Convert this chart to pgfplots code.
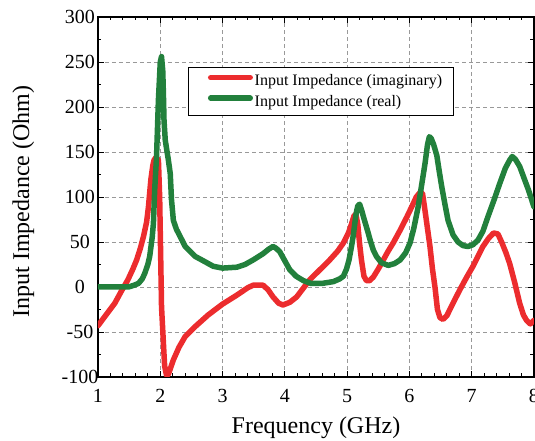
\documentclass[border=0pt]{standalone}
\usepackage{pgfplots}
\pgfplotsset{compat=1.18}
\usepackage{fontspec}
\setmainfont{Liberation Serif}
\definecolor{cred}{RGB}{236,44,46}
\definecolor{cgreen}{RGB}{34,128,60}
\begin{document}
\begin{tikzpicture}
\begin{axis}[
  scale only axis, width=436pt, height=360pt,
  xmin=1, xmax=8, ymin=-100, ymax=300,
  xtick={1,2,3,4,5,6,7,8}, ytick={-100,-50,0,50,100,150,200,250,300},
  minor x tick num=4, minor y tick num=1,
  tick align=inside, tickpos=both,
  major tick length=6pt, minor tick length=3.5pt,
  every tick/.style={black, line width=0.9pt},
  axis line style={black, line width=1.2pt},
  grid=major,
  major grid style={gray!80, dash pattern=on 4pt off 3pt, line width=0.8pt},
  /pgf/number format/assume math mode=true,
  xticklabel={\pgfmathprintnumber{\tick}},
  yticklabel={\pgfmathprintnumber{\tick}},
  ticklabel style={font=\fontsize{20}{22}\selectfont},
  yticklabel style={anchor=center, xshift=-18pt},
  xticklabel style={anchor=center, yshift=-19pt},
  xlabel={Frequency (GHz)}, ylabel={Input Impedance (Ohm)},
  label style={font=\fontsize{24}{26}\selectfont},
  xlabel style={at={(axis description cs:0.5,-0.158)}, anchor=base},
  ylabel style={at={(axis description cs:-0.158,0.4875)}, anchor=base, rotate=0},
  legend cell align=left,
  legend image code/.code={\path (0pt,0pt) (50pt,0pt); \draw[#1] (8.75pt,0.35em) -- (48.25pt,0.35em);},
  legend style={at={(rel axis cs:0.206,0.860)}, anchor=north west,
    draw=black, line width=0.8pt, fill=white,
    font=\fontsize{16}{17}\selectfont,
    inner xsep=11pt, inner ysep=7pt, row sep=8pt,
    nodes={inner sep=0pt},
    /tikz/every even column/.append style={column sep=0pt}},
  every axis plot/.append style={line width=5.5pt, line join=round, line cap=round},
  clip=true,
]
\addplot[cred] coordinates {
(1.00,-43) (1.14,-30) (1.27,-18) (1.38,-4) (1.48,8) (1.56,20) (1.62,30) (1.68,43) (1.73,56) (1.78,72) (1.81,89) (1.83,105) (1.85,120) (1.88,135) (1.90,141) (1.93,144) (1.97,141)
(1.99,100) (2.00,60) (2.02,-22) (2.05,-62) (2.07,-88) (2.10,-98) (2.13,-97) (2.17,-89) (2.21,-81) (2.30,-67) (2.40,-55) (2.56,-44) (2.77,-31)
(3.00,-19) (3.23,-9) (3.40,-1) (3.49,2) (3.65,2) (3.73,-3) (3.81,-11) (3.90,-18) (3.97,-20) (4.08,-17) (4.19,-11) (4.30,-1) (4.40,8) (4.56,19) (4.72,30) (4.85,40) (4.94,49)
(5.02,60) (5.07,70) (5.11,79) (5.14,81) (5.17,70) (5.20,48) (5.23,30) (5.27,12) (5.31,7) (5.36,7) (5.42,11) (5.50,20) (5.58,30) (5.66,40) (5.74,49) (5.85,63) (5.96,78) (6.05,91)
(6.11,100) (6.17,105) (6.21,104) (6.24,90) (6.28,70) (6.33,45) (6.37,20) (6.41,0) (6.45,-25) (6.49,-34) (6.54,-36) (6.60,-32) (6.70,-18) (6.81,-3) (6.92,11) (7.02,23)
(7.10,34) (7.18,45) (7.27,54) (7.35,60) (7.42,59) (7.48,50) (7.55,38) (7.61,26) (7.69,5) (7.77,-18) (7.83,-31) (7.88,-37) (7.94,-41) (8.00,-37)
};
\addlegendentry{Input Impedance (imaginary)}
\addplot[cgreen] coordinates {
(1.00,0) (1.30,0) (1.49,0) (1.58,2) (1.65,4) (1.71,9) (1.75,15) (1.80,25) (1.83,34) (1.87,55) (1.89,71) (1.91,108) (1.94,145) (1.97,208) (2.00,250)
(2.02,256) (2.04,240) (2.05,215) (2.06,185) (2.08,163) (2.13,141) (2.16,126) (2.18,97) (2.21,74) (2.26,64) (2.32,56) (2.40,45) (2.56,34) (2.72,28)
(2.85,23) (3.00,21) (3.23,22) (3.36,25) (3.49,30) (3.65,37) (3.74,42) (3.81,45) (3.86,43) (3.92,39) (4.00,29) (4.08,19) (4.18,12) (4.30,7) (4.42,4) (4.60,4)
(4.78,6) (4.88,9) (4.94,12) (4.99,20) (5.03,30) (5.07,45) (5.10,58) (5.14,80) (5.17,90) (5.20,92) (5.23,86) (5.27,76) (5.33,62) (5.37,52) (5.42,41) (5.47,34) (5.55,27)
(5.66,24) (5.76,26) (5.85,30) (5.94,38) (6.01,49) (6.07,65) (6.14,89) (6.20,115) (6.25,137) (6.29,158) (6.32,167) (6.35,165) (6.39,158) (6.44,146) (6.48,128) (6.52,111) (6.57,92) (6.62,74)
(6.70,58) (6.78,50) (6.86,46) (6.94,45) (7.02,47) (7.10,52) (7.18,62) (7.26,78) (7.36,97) (7.45,115) (7.54,132) (7.61,141) (7.65,145) (7.70,142) (7.77,134) (7.84,121) (7.91,108) (8.00,89)
};
\addlegendentry{Input Impedance (real)}
\coordinate (sw) at (rel axis cs:0,0);
\coordinate (ne) at (rel axis cs:1,1);
\end{axis}
\pgfresetboundingbox
\path[use as bounding box] ([xshift=-98pt,yshift=-64pt]sw) rectangle ([xshift=1pt,yshift=17pt]ne);
\end{tikzpicture}
\end{document}
